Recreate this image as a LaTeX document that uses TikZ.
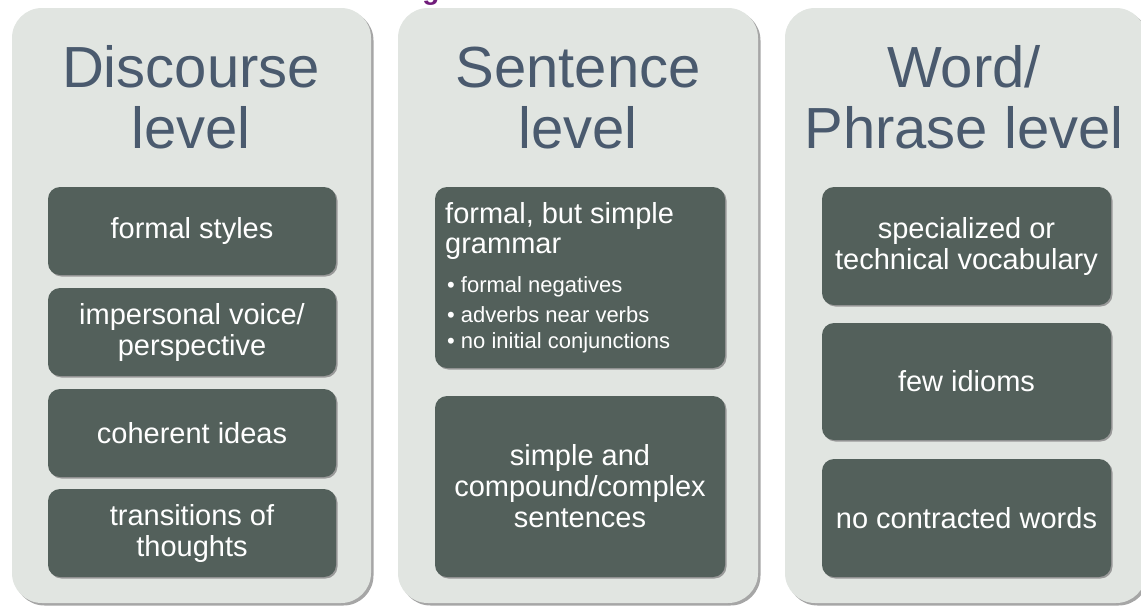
\documentclass[tikz,border=0pt]{standalone}
\usepackage{fontspec}
\setmainfont{Liberation Sans}
\definecolor{panelgray}{RGB}{225,229,225}
\definecolor{boxgreen}{RGB}{83,96,91}
\definecolor{titleblue}{RGB}{74,90,110}
\definecolor{headpurple}{RGB}{112,28,122}
\tikzset{
  panel/.style = {fill=panelgray, rounded corners=30pt,
                  preaction={fill=black!35, transform canvas={xshift=2.5pt, yshift=-2.5pt}}},
  title/.style = {text=titleblue, anchor=base, inner sep=0pt,
                  font=\fontsize{58}{60}\selectfont},
  item/.style  = {fill=boxgreen, rounded corners=12pt, text=white,
                  align=center, inner sep=0pt, minimum height=#1,
                  font=\fontsize{29}{31}\selectfont,
                  preaction={fill=black!40, transform canvas={xshift=1.5pt, yshift=-1.5pt}}},
  item/.default = 88pt,
  bullet/.style = {text=white, anchor=base west, inner sep=0pt,
                  font=\fontsize{22}{26}\selectfont}
}

\begin{document}
\begin{tikzpicture}[x=1pt, y=-1pt]
	\def \wa{288pt}
	\def \wb{290pt}
	\def \wc{289pt}

	\useasboundingbox (0,0) rectangle (1141,606);
	\clip (0,0) rectangle (1141,606);

	% Heading (cut off above)
	\node[text=headpurple, anchor=base, inner sep=0pt, font=\fontsize{28}{30}\selectfont\bfseries] (heading) at (431,-1) {g};

	% Panels
	\fill[panel] (12,8)  rectangle (371,603);
	\fill[panel] (398,8) rectangle (758,603);
	\fill[panel] (785,8) rectangle (1146,603);

	% Discourse level
	\node[title] (discourse) at (191,87)  {Discourse};
	\node[title] (discourse2) at (191,148) {level};
	\node[item, minimum width=\wa] (styles)      at (192,231) {formal styles};
	\node[item, minimum width=\wa] (voice)       at (192,332) {impersonal voice/\\perspective};
	\node[item, minimum width=\wa] (ideas)       at (192,433) {coherent ideas};
	\node[item, minimum width=\wa] (transitions) at (192,533) {transitions of\\thoughts};

	% Sentence level
	\node[title] (sentence) at (578,87)  {Sentence};
	\node[title] (sentence2) at (578,148) {level};
	\node[item=181pt, minimum width=\wb] (grammar)   at (580,277.5) {};
	\node[item=181pt, minimum width=\wb] (sentences) at (580,486.5) {simple and\\compound/complex\\sentences};
	\node[bullet, font=\fontsize{29}{31}\selectfont] (grammar1) at (445,223) {formal, but simple};
	\node[bullet, font=\fontsize{29}{31}\selectfont] (grammar2) at (445,253) {grammar};
	\node[bullet] (negatives)    at (447,292) {\textbullet\ formal negatives};
	\node[bullet] (adverbs)      at (447,322) {\textbullet\ adverbs near verbs};
	\node[bullet] (conjunctions) at (447,348) {\textbullet\ no initial conjunctions};

	% Word/Phrase level
	\node[title] (word) at (964,87)  {Word/};
	\node[title] (word2) at (964,148) {Phrase level};
	\node[item=118pt, minimum width=\wc] (vocabulary) at (966.5,246)   {specialized or\\technical vocabulary};
	\node[item=117pt, minimum width=\wc] (idioms)     at (966.5,381.5) {few idioms};
	\node[item=118pt, minimum width=\wc] (contracted) at (966.5,518)   {no contracted words};

\end{tikzpicture}
\end{document}
